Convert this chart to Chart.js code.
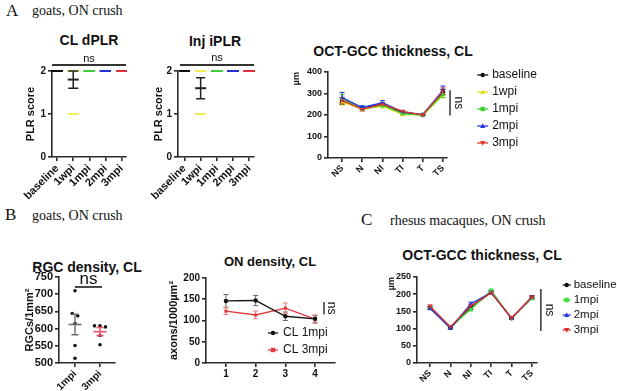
<!DOCTYPE html>
<html>
<head>
<meta charset="utf-8">
<title>ON crush – goats and rhesus macaques</title>
<script src="https://cdn.jsdelivr.net/npm/chart.js@4.4.1/dist/chart.umd.min.js"></script>
<style>
html, body { margin: 0; padding: 0; background: #fff; }
body { position: relative; width: 617px; height: 391px; overflow: hidden; }
canvas { position: absolute; }
.txt { position: absolute; white-space: nowrap; line-height: 1; color: #111; }
.serif { font-family: 'Liberation Serif', 'Times New Roman', serif; }
.ttl { font-family: 'Liberation Sans', Arial, sans-serif; font-weight: bold; text-align: center; width: 200px; }
</style>
</head>
<body>
<div class="txt serif" style="left:6px;top:2px;font-size:17px">A</div>
<div class="txt serif" style="left:32px;top:4px;font-size:14px">goats, ON crush</div>
<div class="txt serif" style="left:5px;top:206px;font-size:17px">B</div>
<div class="txt serif" style="left:32px;top:209px;font-size:14px">goats, ON crush</div>
<div class="txt serif" style="left:361px;top:211px;font-size:17px">C</div>
<div class="txt serif" style="left:390px;top:214px;font-size:14px">rhesus macaques, ON crush</div>

<div class="txt ttl" style="left:-11px;top:33px;font-size:14px">CL dPLR</div>
<div class="txt ttl" style="left:115px;top:34px;font-size:14px">Inj iPLR</div>
<div class="txt ttl" style="left:293px;top:44px;font-size:14px">OCT-GCC thickness, CL</div>
<div class="txt ttl" style="left:-13px;top:260px;font-size:14px">RGC density, CL</div>
<div class="txt ttl" style="left:170px;top:255px;font-size:13px">ON density, CL</div>
<div class="txt ttl" style="left:382px;top:248px;font-size:14px">OCT-GCC thickness, CL</div>

<canvas id="dplrChart"></canvas>
<canvas id="iplrChart"></canvas>
<canvas id="goatOctChart"></canvas>
<canvas id="rgcChart"></canvas>
<canvas id="onChart"></canvas>
<canvas id="macOctChart"></canvas>

<script>
// PLR scores (goats)
const PLR_GROUPS = ['baseline', '1wpi', '1mpi', '2mpi', '3mpi'];
const PLR_COLORS = ['#111111', '#f1ec5c', '#3fcc3f', '#2431d6', '#e3323b'];
const PLR_MEAN_COLORS = ['#111111', '#222222', '#3fcc3f', '#2431d6', '#e3323b'];
const DPLR_SCORES = [[2, 2, 2, 2, 2], [2, 2, 2, 2, 1], [2, 2, 2, 2, 2], [2, 2, 2, 2, 2], [2, 2, 2, 2, 2]];
const DPLR_MEAN = [2, 1.8, 2, 2, 2];
const DPLR_SEM = [0, 0.2, 0, 0, 0];
const IPLR_SCORES = [[2, 2, 2, 2, 2], [2, 2, 2, 1, 1], [2, 2, 2, 2, 2], [2, 2, 2, 2, 2], [2, 2, 2, 2, 2]];
const IPLR_MEAN = [2, 1.6, 2, 2, 2];
const IPLR_SEM = [0, 0.245, 0, 0, 0];

// OCT-GCC thickness (goats)
const SECTORS = ['NS', 'N', 'NI', 'TI', 'T', 'TS'];
const GOAT_SERIES = ['baseline', '1wpi', '1mpi', '2mpi', '3mpi'];
const GOAT_COLORS = ['#111111', '#e6e21c', '#3fcf2f', '#2336e0', '#e2372c'];
const GOAT_BASELINE = [265, 232, 250, 211, 200, 307];
const GOAT_1WPI = [260, 229, 241, 202, 199, 292];
const GOAT_1MPI = [276, 228, 245, 206, 200, 295];
const GOAT_2MPI = [281, 235, 257, 215, 202, 315];
const GOAT_3MPI = [268, 226, 250, 217, 201, 310];
const GOAT_BASELINE_SEM = [16, 8, 8, 5, 3, 12];
const GOAT_1WPI_SEM = [14, 7, 8, 5, 3, 12];
const GOAT_1MPI_SEM = [18, 8, 9, 5, 3, 14];
const GOAT_2MPI_SEM = [24, 8, 10, 6, 3, 20];
const GOAT_3MPI_SEM = [14, 7, 8, 5, 3, 16];

// RGC density
const RGC_GROUPS = ['1mpi', '3mpi'];
const RGC_1MPI = [710, 644, 637, 615, 551, 514];
const RGC_3MPI = [608, 608, 605, 580, 553];
const RGC_MEAN = [612, 591];
const RGC_SEM = [30, 12];

// ON density
const ON_SEGMENTS = [1, 2, 3, 4];
const ON_CL_1MPI = [146, 147, 110, 104];
const ON_CL_1MPI_SEM = [15, 12, 10, 8];
const ON_CL_3MPI = [122, 113, 129, 103];
const ON_CL_3MPI_SEM = [8, 9, 12, 10];

// OCT-GCC thickness (rhesus macaques)
const MAC_SERIES = ['baseline', '1mpi', '2mpi', '3mpi'];
const MAC_COLORS = ['#111111', '#3ee03e', '#2a3ae0', '#e02828'];
const MAC_BASELINE = [160, 103, 160, 206, 130, 190];
const MAC_1MPI = [160, 104, 156, 211, 130, 188];
const MAC_2MPI = [159, 101, 172, 205, 130, 192];
const MAC_3MPI = [165, 105, 166, 204, 131, 192];
const MAC_BASELINE_SEM = [4, 3, 4, 4, 2, 4];
const MAC_1MPI_SEM = [4, 3, 5, 4, 2, 4];
const MAC_2MPI_SEM = [4, 3, 5, 4, 2, 4];
const MAC_3MPI_SEM = [4, 3, 5, 4, 2, 4];

const FONT = "'Liberation Sans', Arial, Helvetica, sans-serif";
const AXIS = '#2b2b2b';
Chart.defaults.font.family = FONT;
Chart.defaults.color = '#111';

// page layout helpers
function frame(box, area) {
    return {
        padding: {left: 0, top: area.t - box.t, right: box.l + box.w - area.r, bottom: 0},
        yWidth: area.l - box.l,
        xHeight: box.t + box.h - area.b
    };
}

function mount(id, box) {
    const c = document.getElementById(id);
    c.width = box.w;
    c.height = box.h;
    c.style.left = box.l + 'px';
    c.style.top = box.t + 'px';
    return c;
}

function yAxis(f, box, o) {
    return {
        type: 'linear', position: 'left', min: o.min, max: o.max,
        afterFit: s => { s.width = f.yWidth; },
        border: {color: AXIS, width: 1.6},
        grid: {drawOnChartArea: false, tickLength: 4, color: AXIS, lineWidth: 1.6},
        ticks: {stepSize: o.step, padding: 2, color: '#111', font: {size: o.tick, weight: 'bold'}},
        title: {
            display: true, text: o.title, align: o.align || 'center', color: '#111',
            font: {size: o.tsize, weight: 'bold'},
            padding: {top: o.tcx - box.l - o.tsize * 0.6, bottom: 0}
        }
    };
}

function xAxis(f, o) {
    return {
        type: 'linear', position: 'bottom', min: o.min, max: o.max,
        afterFit: s => { s.height = f.xHeight; },
        afterBuildTicks: s => { s.ticks = o.at.map(v => ({value: v})); },
        border: {color: AXIS, width: 1.6},
        grid: {drawOnChartArea: false, tickLength: 4, color: AXIS, lineWidth: 1.6},
        ticks: {
            autoSkip: false, minRotation: o.rot, maxRotation: o.rot, padding: 1, color: '#111',
            font: {size: o.tick, weight: 'bold'},
            callback: (v, i) => o.labels[i]
        }
    };
}

// error bars (mean ± SEM) through the y scale
function drawErrorBars(chart) {
    const ctx = chart.ctx;
    chart.data.datasets.forEach((ds, di) => {
        if (!ds.errors) return;
        const meta = chart.getDatasetMeta(di);
        const ys = chart.scales[meta.yAxisID];
        ctx.save();
        ctx.lineWidth = ds.errorWidth || 1;
        meta.data.forEach((pt, i) => {
            const e = ds.errors[i];
            if (!e) return;
            const v = ds.data[i].y;
            const top = ys.getPixelForValue(v + e), bot = ys.getPixelForValue(v - e);
            const c = ds.capHalf || 2.5;
            ctx.strokeStyle = Array.isArray(ds.errorColor) ? ds.errorColor[i] : (ds.errorColor || ds.borderColor);
            ctx.beginPath();
            ctx.moveTo(pt.x, top); ctx.lineTo(pt.x, bot);
            ctx.moveTo(pt.x - c, top); ctx.lineTo(pt.x + c, top);
            ctx.moveTo(pt.x - c, bot); ctx.lineTo(pt.x + c, bot);
            ctx.stroke();
        });
        ctx.restore();
    });
}

const errorBars = {
    id: 'errorBars',
    beforeDatasetsDraw(chart, args, opts) { if (opts.under) drawErrorBars(chart); },
    afterDatasetsDraw(chart, args, opts) { if (!opts.under) drawErrorBars(chart); }
};

// "ns" significance bracket, placed in data units
function bracket(b) {
    return {
        id: 'bracket',
        afterDraw(chart) {
            const {ctx, scales: {x, y}} = chart;
            ctx.save();
            ctx.strokeStyle = '#333';
            ctx.lineWidth = b.width;
            ctx.fillStyle = '#111';
            ctx.font = b.size + 'px ' + FONT;
            ctx.textAlign = 'center';
            ctx.textBaseline = 'middle';
            ctx.beginPath();
            if (b.dir === 'h') {
                const x1 = x.getPixelForValue(b.from), x2 = x.getPixelForValue(b.to), yy = y.getPixelForValue(b.at);
                ctx.moveTo(x1, yy); ctx.lineTo(x2, yy); ctx.stroke();
                ctx.fillText(b.text, (x1 + x2) / 2, yy - b.gap);
            } else {
                const xx = x.getPixelForValue(b.at), y1 = y.getPixelForValue(b.from), y2 = y.getPixelForValue(b.to);
                ctx.moveTo(xx, y1); ctx.lineTo(xx, y2); ctx.stroke();
                ctx.translate(xx + b.gap, (y1 + y2) / 2);
                ctx.rotate(Math.PI / 2);
                ctx.fillText(b.text, 0, 0);
            }
            ctx.restore();
        }
    };
}

function marker(ctx, style, rot, x, y, r) {
    ctx.beginPath();
    if (style === 'rect') {
        ctx.rect(x - r, y - r, 2 * r, 2 * r);
    } else if (style === 'triangle') {
        const s = rot ? -1 : 1;
        ctx.moveTo(x, y - s * r * 1.3);
        ctx.lineTo(x + r * 1.2, y + s * r * 0.9);
        ctx.lineTo(x - r * 1.2, y + s * r * 0.9);
        ctx.closePath();
    } else {
        ctx.arc(x, y, r, 0, Math.PI * 2);
    }
    ctx.fill();
}

// legend with short line + symbol, like the Prism one
function sideLegend(o) {
    return {
        id: 'sideLegend',
        afterDraw(chart) {
            const ctx = chart.ctx;
            ctx.save();
            ctx.font = o.size + 'px ' + FONT;
            ctx.textBaseline = 'middle';
            ctx.textAlign = 'left';
            chart.data.datasets.forEach((ds, i) => {
                const y = o.y + i * o.step;
                ctx.strokeStyle = ds.borderColor;
                ctx.fillStyle = ds.borderColor;
                ctx.lineWidth = 1.3;
                ctx.beginPath();
                ctx.moveTo(o.x - o.half, y); ctx.lineTo(o.x + o.half, y);
                ctx.stroke();
                marker(ctx, ds.pointStyle, ds.pointRotation, o.x, y, 2.2);
                ctx.fillStyle = '#111';
                ctx.fillText(ds.label, o.x + o.gap, y);
            });
            ctx.restore();
        }
    };
}

function build(id, box, area, type, datasets, xo, yo, extra) {
    const f = frame(box, area);
    return new Chart(mount(id, box), {
        type: type,
        data: {datasets: datasets},
        options: {
            responsive: false,
            animation: false,
            events: [],
            layout: {padding: f.padding},
            scales: {x: xAxis(f, xo), y: yAxis(f, box, yo)},
            plugins: {legend: {display: false}, tooltip: {enabled: false}, errorBars: {under: !!extra.under}}
        },
        plugins: [errorBars].concat(extra.plugins || [])
    });
}

// ---- panel A: PLR scores
function plrDatasets(scores, means, sems, cap) {
    return [{
        label: 'mean',
        data: means.map((m, i) => ({x: i, y: m})),
        errors: sems, errorColor: '#222', errorWidth: 1.5, capHalf: cap,
        pointStyle: 'line', pointRadius: 5.5, pointBorderWidth: 2,
        pointBorderColor: PLR_MEAN_COLORS, borderColor: '#222',
        showLine: false, clip: false, order: 0
    }, {
        label: 'scores',
        data: scores.flatMap((g, i) => g.map(v => ({x: i, y: v}))),
        pointStyle: 'line', pointRadius: 5.5, pointBorderWidth: 2,
        pointBorderColor: scores.flatMap((g, i) => g.map(() => PLR_COLORS[i])),
        showLine: false, clip: false, order: 1
    }];
}

build('dplrChart', {l: 0, t: 30, w: 140, h: 170}, {l: 52, t: 71, r: 126, b: 157}, 'scatter',
    plrDatasets(DPLR_SCORES, DPLR_MEAN, DPLR_SEM, 5),
    {min: -0.32, max: 4.28, at: [0, 1, 2, 3, 4], labels: PLR_GROUPS, rot: 45, tick: 11},
    {min: 0, max: 2, step: 1, tick: 10, title: 'PLR score', tsize: 11, tcx: 31},
    {plugins: [bracket({dir: 'h', from: -0.32, to: 4.28, at: 2.14, text: 'ns', size: 11, gap: 6, width: 2})]});

build('iplrChart', {l: 140, t: 30, w: 125, h: 170}, {l: 178, t: 71, r: 254, b: 157}, 'scatter',
    plrDatasets(IPLR_SCORES, IPLR_MEAN, IPLR_SEM, 4.5),
    {min: -0.4, max: 4.3, at: [0, 1, 2, 3, 4], labels: PLR_GROUPS, rot: 45, tick: 11},
    {min: 0, max: 2, step: 1, tick: 10, title: 'PLR score', tsize: 11, tcx: 158.5},
    {plugins: [bracket({dir: 'h', from: -0.28, to: 4.3, at: 2.14, text: 'ns', size: 11, gap: 7, width: 2})]});

// ---- panel A: goat OCT
function lineSet(label, values, sems, xs, color, style, rot, order, errColor) {
    return {
        label: label,
        data: values.map((v, i) => ({x: xs[i], y: v})),
        errors: sems, errorColor: errColor || color, errorWidth: 1, capHalf: 2.5,
        borderColor: color, backgroundColor: color,
        pointBackgroundColor: color, pointBorderColor: color,
        pointStyle: style, pointRotation: rot, pointRadius: 2.2, pointBorderWidth: 0,
        borderWidth: 1.3, tension: 0, clip: false, order: order
    };
}

const SECTOR_X = SECTORS.map((s, i) => i);
const GOAT_VALUES = [GOAT_BASELINE, GOAT_1WPI, GOAT_1MPI, GOAT_2MPI, GOAT_3MPI];
const GOAT_SEMS = [GOAT_BASELINE_SEM, GOAT_1WPI_SEM, GOAT_1MPI_SEM, GOAT_2MPI_SEM, GOAT_3MPI_SEM];
const GOAT_MARKERS = [['circle', 0], ['triangle', 0], ['rect', 0], ['triangle', 0], ['triangle', 180]];

build('goatOctChart', {l: 280, t: 60, w: 337, h: 130}, {l: 328, t: 72, r: 447, b: 158}, 'line',
    GOAT_SERIES.map((name, k) => lineSet(name, GOAT_VALUES[k], GOAT_SEMS[k], SECTOR_X, GOAT_COLORS[k],
        GOAT_MARKERS[k][0], GOAT_MARKERS[k][1], GOAT_SERIES.length - k)),
    {min: -0.7, max: 5.2, at: SECTOR_X, labels: SECTORS, rot: 45, tick: 9},
    {min: 0, max: 400, step: 100, tick: 9, title: 'µm', tsize: 9, tcx: 297, align: 'end'},
    {under: true, plugins: [
        bracket({dir: 'v', at: 5.35, from: 198, to: 315, text: 'ns', size: 12, gap: 8, width: 1.5}),
        sideLegend({x: 202.7, y: 15, step: 17, half: 5.5, gap: 9.5, size: 12})
    ]});

// ---- panel B: RGC density (dot plot, mean ± SEM)
function swarm(vals, spread) {
    // spread points whose values nearly coincide
    return vals.map((v, i) => {
        const near = vals.map((w, j) => j).filter(j => Math.abs(vals[j] - v) < 8);
        const k = near.indexOf(i);
        return (k - (near.length - 1) / 2) * spread;
    });
}

function dotSet(vals, xi) {
    const off = swarm(vals, 0.22);
    return {
        label: RGC_GROUPS[xi],
        data: vals.map((v, j) => ({x: xi + off[j], y: v})),
        pointStyle: 'circle', pointRadius: 1.8, pointBackgroundColor: '#111', pointBorderWidth: 0,
        showLine: false, clip: false, order: 1
    };
}

build('rgcChart', {l: 0, t: 265, w: 125, h: 126}, {l: 59, t: 277, r: 115, b: 363}, 'scatter',
    [{
        label: 'mean',
        data: RGC_MEAN.map((m, i) => ({x: i, y: m})),
        errors: RGC_SEM, errorColor: ['#6d6d6d', '#ee4d6b'], errorWidth: 1.4, capHalf: 3.5,
        pointStyle: 'line', pointRadius: 6.5, pointBorderWidth: 1.6,
        pointBorderColor: ['#6d6d6d', '#ee4d6b'], borderColor: '#6d6d6d',
        showLine: false, clip: false, order: 0
    }, dotSet(RGC_1MPI, 0), dotSet(RGC_3MPI, 1)],
    {min: -0.64, max: 1.6, at: [0, 1], labels: RGC_GROUPS, rot: 45, tick: 10},
    {min: 500, max: 750, step: 50, tick: 11, title: 'RGCs/1mm²', tsize: 11, tcx: 30},
    {plugins: [bracket({dir: 'h', from: 0, to: 1.08, at: 721, text: 'ns', size: 17, gap: 8, width: 1.8})]});

// ---- panel B: ON density
build('onChart', {l: 160, t: 265, w: 200, h: 126}, {l: 206, t: 278, r: 335, b: 363}, 'line',
    [lineSet('CL 1mpi', ON_CL_1MPI, ON_CL_1MPI_SEM, ON_SEGMENTS, '#111111', 'circle', 0, 1, '#666666'),
     lineSet('CL 3mpi', ON_CL_3MPI, ON_CL_3MPI_SEM, ON_SEGMENTS, '#e23b3b', 'rect', 0, 2, '#ec7b7b')],
    {min: 0.33, max: 4.67, at: ON_SEGMENTS, labels: ON_SEGMENTS.map(String), rot: 0, tick: 10},
    {min: 0, max: 200, step: 50, tick: 10, title: 'axons/1000µm²', tsize: 11, tcx: 174},
    {under: true, plugins: [
        bracket({dir: 'v', at: 4.30, from: 115, to: 143.5, text: 'ns', size: 12, gap: 7, width: 1.5}),
        sideLegend({x: 113, y: 68, step: 17, half: 5, gap: 10, size: 12})
    ]});

// ---- panel C: macaque OCT
const MAC_VALUES = [MAC_BASELINE, MAC_1MPI, MAC_2MPI, MAC_3MPI];
const MAC_SEMS = [MAC_BASELINE_SEM, MAC_1MPI_SEM, MAC_2MPI_SEM, MAC_3MPI_SEM];
const MAC_MARKERS = [['circle', 0], ['rect', 0], ['triangle', 0], ['triangle', 180]];

build('macOctChart', {l: 380, t: 265, w: 237, h: 126}, {l: 417, t: 277, r: 537, b: 363}, 'line',
    MAC_SERIES.map((name, k) => lineSet(name, MAC_VALUES[k], MAC_SEMS[k], SECTOR_X, MAC_COLORS[k],
        MAC_MARKERS[k][0], MAC_MARKERS[k][1], MAC_SERIES.length - k)),
    {min: -0.64, max: 5.25, at: SECTOR_X, labels: SECTORS, rot: 45, tick: 9},
    {min: 0, max: 250, step: 50, tick: 9, title: 'µm', tsize: 9, tcx: 392, align: 'end'},
    {under: true, plugins: [
        bracket({dir: 'v', at: 5.44, from: 93, to: 215, text: 'ns', size: 12, gap: 8, width: 1.5}),
        sideLegend({x: 186.7, y: 20, step: 15, half: 4, gap: 7, size: 11.5})
    ]});
</script>
</body>
</html>
